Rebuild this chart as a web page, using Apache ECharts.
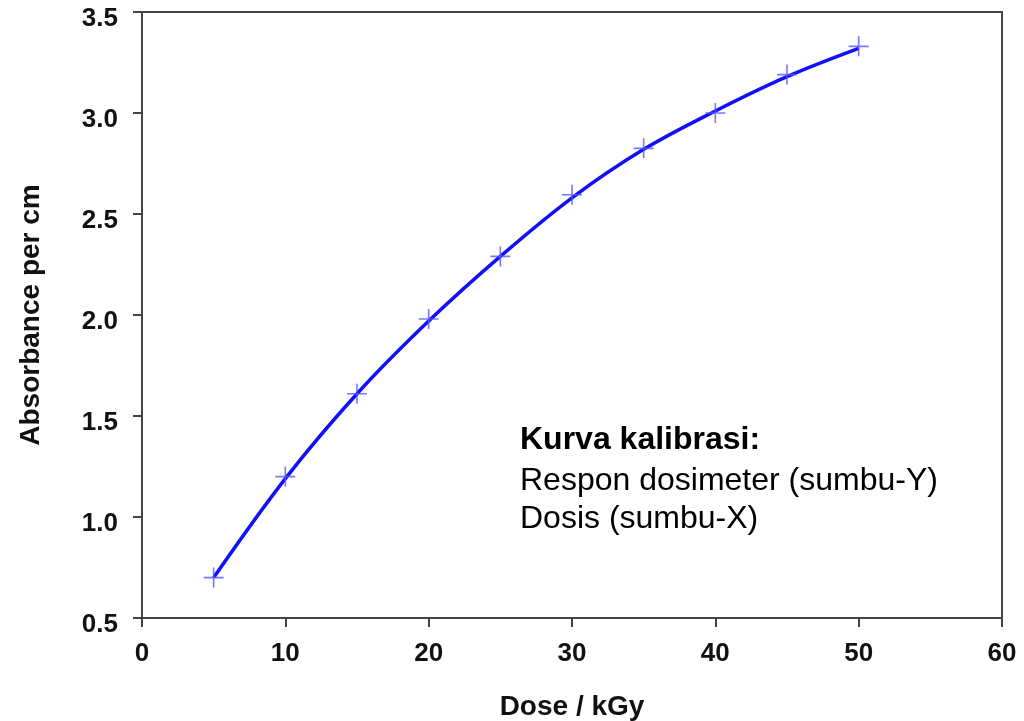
<!DOCTYPE html>
<html>
<head>
<meta charset="utf-8">
<script src="https://cdn.jsdelivr.net/npm/echarts@6/dist/echarts.min.js"></script>
<style>
  html, body { margin: 0; padding: 0; background: #fff; }
  #chart { width: 1024px; height: 721px; }
</style>
</head>
<body>
<div id="chart"></div>
<script>
// Dose values (kGy)
const doses = [5, 10, 15, 20, 25, 30, 35, 40, 45, 50];
// Measured absorbance per cm at each dose
const measured = [0.70, 1.20, 1.61, 1.98, 2.29, 2.595, 2.825, 3.00, 3.19, 3.33];
// Fitted calibration curve at the same doses
const fitted = [0.70, 1.19, 1.61, 1.97, 2.29, 2.58, 2.82, 3.01, 3.18, 3.32];
// Axis ticks
const xTicks = [0, 10, 20, 30, 40, 50, 60];
const yTicks = [0.5, 1.0, 1.5, 2.0, 2.5, 3.0, 3.5];
// Annotation text
const noteTitle = 'Kurva kalibrasi:';
const noteLines = ['Respon dosimeter (sumbu-Y)', 'Dosis (sumbu-X)'];

const font = '"Liberation Sans", Arial, Helvetica, sans-serif';
const axisColor = '#444444';

const chart = echarts.init(document.getElementById('chart'));
chart.setOption({
  animation: false,
  backgroundColor: '#ffffff',
  grid: {
    left: 142, top: 12, right: 22, bottom: 103,
    outerBoundsMode: 'none', containLabel: false,
    show: true, borderColor: axisColor, borderWidth: 2, backgroundColor: 'transparent'
  },
  xAxis: {
    type: 'value',
    min: xTicks[0], max: xTicks[xTicks.length - 1], interval: 10,
    name: 'Dose / kGy', nameLocation: 'middle', nameGap: 75,
    nameTextStyle: { fontFamily: font, fontWeight: 'bold', fontSize: 28, color: '#111' },
    axisLine: { show: true, lineStyle: { color: axisColor, width: 2 } },
    axisTick: { show: true, inside: false, length: 9, lineStyle: { color: axisColor, width: 2 } },
    axisLabel: {
      margin: 23, fontFamily: font, fontWeight: 'bold', fontSize: 26, color: '#111',
      formatter: v => String(v)
    },
    splitLine: { show: false }
  },
  yAxis: {
    type: 'value',
    min: yTicks[0], max: yTicks[yTicks.length - 1], interval: 0.5,
    name: 'Absorbance per cm', nameLocation: 'middle', nameGap: 97, nameRotate: 90,
    nameTextStyle: { fontFamily: font, fontWeight: 'bold', fontSize: 28, color: '#111' },
    axisLine: { show: true, lineStyle: { color: axisColor, width: 2 } },
    axisTick: { show: true, inside: false, length: 9, lineStyle: { color: axisColor, width: 2 } },
    axisLabel: {
      margin: 24, fontFamily: font, fontWeight: 'bold', fontSize: 26, color: '#111',
      verticalAlign: 'top', lineHeight: 14,
      formatter: v => v.toFixed(1)
    },
    splitLine: { show: false }
  },
  series: [
    {
      type: 'line',
      data: doses.map((d, i) => [d, fitted[i]]),
      smooth: 0.35,
      showSymbol: false,
      lineStyle: { color: '#1010ff', width: 3.5 },
      z: 2
    },
    {
      type: 'scatter',
      data: doses.map((d, i) => [d, measured[i]]),
      symbol: 'path://M10,0 L10,20 M0,10 L20,10',
      symbolSize: 20,
      itemStyle: { color: 'transparent', borderColor: '#5555ff', borderWidth: 1.6 },
      z: 3
    }
  ],
  graphic: [
    {
      type: 'text', x: 520, y: 440,
      style: { text: noteTitle, fontFamily: font, fontWeight: 'bold', fontSize: 32, fill: '#000', verticalAlign: 'middle' }
    },
    {
      type: 'text', x: 520, y: 481,
      style: { text: noteLines[0], fontFamily: font, fontSize: 32, fill: '#000', verticalAlign: 'middle' }
    },
    {
      type: 'text', x: 520, y: 519,
      style: { text: noteLines[1], fontFamily: font, fontSize: 32, fill: '#000', verticalAlign: 'middle' }
    }
  ]
});
</script>
</body>
</html>
